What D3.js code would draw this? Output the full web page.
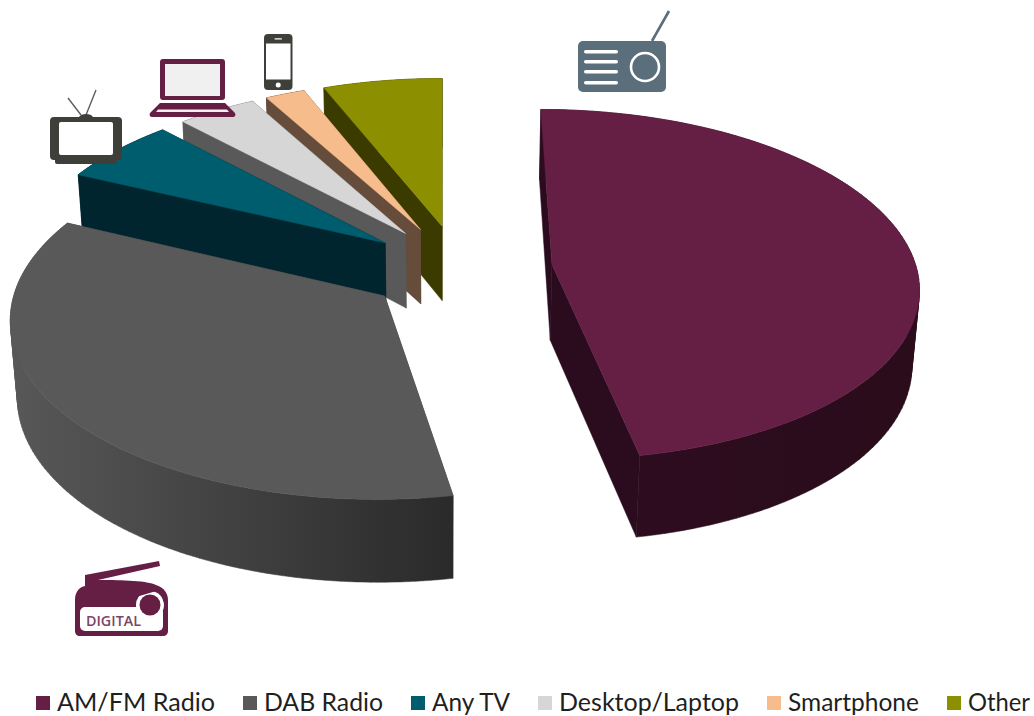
<!DOCTYPE html>
<html>
<head>
<meta charset="utf-8">
<script src="https://cdn.jsdelivr.net/npm/d3@7"></script>
<style>
html,body{margin:0;padding:0;background:#fff;overflow:hidden}
svg{display:block}
text{font-family:"Lato",sans-serif}
</style>
</head>
<body>
<svg id="chart" width="1034" height="716"></svg>
<script>
// Listening share by platform
const categories = ["AM/FM Radio","DAB Radio","Any TV","Desktop/Laptop","Smartphone","Other"];
const shares = [47.1,34.9,6,4,2,6];
const topColors = ["#651f45","#595959","#005d6e","#d6d6d6","#f6bc8c","#8c8f00"];
const sideColors = ["#2b0c1e","#3f3f3f","#00252e","#595959","#664c3a","#3b3b00"];
const rimFrom = ["#2e0c20","#585858","#00252e","#595959","#664c3a","#3b3b00"];
const rimTo = ["#2a0c1b","#2a2a2a","#00252e","#595959","#664c3a","#3b3b00"];

const svg = d3.select("#chart");
const defs = svg.append("defs");

// Camera used for the tilted pie: radius units on the ground plane, perspective divide by depth
const cam = {vx:443, cx:459.5, cy:268.5, ax:364.5, by:173.5, persp:0.1136, thick:77, sag:0.016, explode:0.2555};

function project(u, v, z){
  const d = 1 + cam.persp*v + cam.sag*z;
  return [cam.vx + (cam.ax*u + (cam.cx-cam.vx))/d, cam.cy + (cam.thick*z - cam.by*v)/d];
}

const pie = d3.pie().sort(null);
const arcs = pie(shares);
const line = d3.line();

// Ground position of a rim angle, clockwise from the far side
const rimPoint = (o,a,z) => project(o[0]+Math.sin(a), o[1]+Math.cos(a), z);

function sliceParts(arc){
  const mid = (arc.startAngle+arc.endAngle)/2;
  const o = [cam.explode*Math.sin(mid), cam.explode*Math.cos(mid)];
  const angles = d3.range(0,121).map(i => arc.startAngle + (arc.endAngle-arc.startAngle)*i/120);
  const apexT = project(o[0],o[1],0), apexB = project(o[0],o[1],1);
  const top = [apexT, ...angles.map(a=>rimPoint(o,a,0))];
  // The rim is swept strip by strip so its silhouette keeps the tangent edges
  const rim = d3.pairs(angles).map(([a,b])=>{
    const quad = [rimPoint(o,a,0),rimPoint(o,b,0),rimPoint(o,b,1),rimPoint(o,a,1)];
    return d3.polygonArea(quad) < 0 ? quad.reverse() : quad;
  });
  const wallA = [apexT, rimPoint(o,arc.startAngle,0), rimPoint(o,arc.startAngle,1), apexB];
  const wallB = [apexT, rimPoint(o,arc.endAngle,0), rimPoint(o,arc.endAngle,1), apexB];
  return {top,rim,wallA,wallB};
}

// Rim shading runs across the visible curve of each slice
arcs.forEach((arc,i)=>{
  const g = defs.append("linearGradient").attr("id","rim"+i)
    .attr("x1","0%").attr("x2","100%").attr("y1","0%").attr("y2","0%");
  g.append("stop").attr("offset","0%").attr("stop-color",rimFrom[i]);
  g.append("stop").attr("offset","100%").attr("stop-color",rimTo[i]);
});

// Far slices are painted first so the near ones overlap them
const paintOrder = [5,4,3,2,1,0];
const plot = svg.append("g").attr("class","slices");
paintOrder.forEach(i=>{
  const parts = sliceParts(arcs[i]);
  const g = plot.append("g").attr("class","slice");
  const add = (d,fill)=>g.append("path").attr("d",d).attr("fill",fill)
    .attr("stroke",fill).attr("stroke-width",0.5).attr("stroke-linejoin","round");
  add(line(parts.wallA)+"Z", sideColors[i]);
  add(line(parts.wallB)+"Z", sideColors[i]);
  add(parts.rim.map(q=>line(q)+"Z").join(""), `url(#rim${i})`);
  add(line(parts.top)+"Z", topColors[i]);
});

// Pictograms beside the slices
const icons = svg.append("g").attr("class","icons");

function radioIcon(x,y){
  const g = icons.append("g").attr("transform",`translate(${x},${y})`);
  const c = "#5a6e7b";
  g.append("path").attr("d","M74 41L91 11").attr("stroke",c).attr("stroke-width",2.6).attr("fill","none");
  g.append("rect").attr("x",0).attr("y",41).attr("width",88).attr("height",51).attr("rx",5).attr("fill",c);
  [50,60,70,81].forEach(yy=>g.append("rect").attr("x",6).attr("y",yy).attr("width",34).attr("height",3.4).attr("rx",1.7).attr("fill","#fff"));
  g.append("circle").attr("cx",67).attr("cy",67).attr("r",14).attr("fill","none").attr("stroke","#fff").attr("stroke-width",2.6);
}
function digitalIcon(x,y){
  const g = icons.append("g").attr("transform",`translate(${x},${y})`);
  const c = "#651f45";
  g.append("path").attr("fill",c).attr("d","M0 39C0 30 5 26 10 25L10 14L84 0L85 5L23 19C40 19 70 19 81 24C90 27 93 33 93 39L93 70C93 73 91 75 88 75L5 75C2 75 0 73 0 70Z");
  g.append("rect").attr("x",5).attr("y",46).attr("width",83).attr("height",24).attr("rx",5).attr("fill","#fff");
  g.append("circle").attr("cx",75).attr("cy",44).attr("r",14).attr("fill","#fff");
  g.append("path").attr("fill",c).attr("d","M61 36L88 28L93 46L88 40A13 13 0 0 0 62 40Z");
  g.append("circle").attr("cx",75).attr("cy",44).attr("r",10.5).attr("fill",c);
  g.append("text").attr("x",11).attr("y",65).attr("font-size",15).attr("font-weight",600).attr("fill","#7d4564")
    .attr("textLength",55).attr("lengthAdjust","spacingAndGlyphs")
    .style("font-family","'Open Sans',sans-serif").text("DIGITAL");
}
function tvIcon(x,y){
  const g = icons.append("g").attr("transform",`translate(${x},${y})`);
  const c = "#3f3f3a";
  g.append("path").attr("d","M31 27L18 10M36 27L46 2").attr("stroke","#5e5e5a").attr("stroke-width",1.4).attr("fill","none");
  g.append("path").attr("d","M29 29C31 25 41 25 43 29Z").attr("fill",c);
  g.append("rect").attr("x",0).attr("y",29).attr("width",72).attr("height",43).attr("rx",4).attr("fill",c);
  g.append("rect").attr("x",5).attr("y",68).attr("width",62).attr("height",8).attr("rx",2).attr("fill",c);
  g.append("rect").attr("x",9).attr("y",34).attr("width",54).attr("height",33).attr("rx",2).attr("fill","#fff");
}
function laptopIcon(x,y){
  const g = icons.append("g").attr("transform",`translate(${x},${y})`);
  const c = "#651f45";
  g.append("rect").attr("x",11).attr("y",0).attr("width",65).attr("height",41).attr("rx",3).attr("fill",c);
  g.append("rect").attr("x",16).attr("y",5).attr("width",55).attr("height",32).attr("fill","#f0f0f0");
  g.append("path").attr("fill",c).attr("d","M11 44L76 44L86 54C87 56 86 58 84 58L3 58C1 58 0 56 1 54Z");
  g.append("path").attr("fill","#f0f0f0").attr("d","M9 50.5L78 50.5L80 53L7 53Z");
}
function phoneIcon(x,y){
  const g = icons.append("g").attr("transform",`translate(${x},${y})`);
  const c = "#3f3f3a";
  g.append("rect").attr("x",0).attr("y",0).attr("width",28.5).attr("height",56).attr("rx",4).attr("fill",c);
  g.append("rect").attr("x",2).attr("y",9.5).attr("width",24.5).attr("height",36).attr("fill","#fff");
  g.append("circle").attr("cx",14.2).attr("cy",51).attr("r",2.5).attr("fill","#fff");
  g.append("rect").attr("x",10.5).attr("y",4.2).attr("width",7.5).attr("height",1.4).attr("rx",.7).attr("fill","#fff");
}
radioIcon(578,0);
digitalIcon(75,561);
tvIcon(50,88);
laptopIcon(149,59);
phoneIcon(264,34);

// Legend laid out left to right; each label is fitted to a fixed run width
const labelWidths = [158,119,78,180,131,62];
const legend = svg.append("g").attr("class","legend");
let cursor = 36;
categories.forEach((name,i)=>{
  legend.append("rect").attr("x",cursor).attr("y",696).attr("width",14).attr("height",14).attr("fill",topColors[i]);
  legend.append("text").attr("x",cursor+21).attr("y",711)
    .attr("font-size",25).attr("fill","#1f1f1f")
    .attr("textLength",labelWidths[i]).attr("lengthAdjust","spacingAndGlyphs").text(name);
  cursor += 21 + labelWidths[i] + 28;
});
</script>
</body>
</html>
